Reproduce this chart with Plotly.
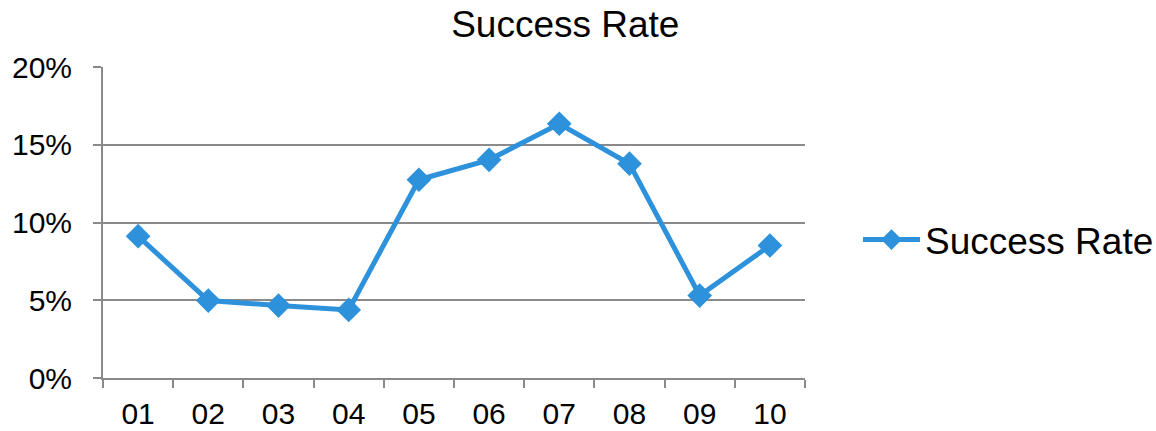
import plotly.graph_objects as go

categories = ["01", "02", "03", "04", "05", "06", "07", "08", "09", "10"]
success_rate = [0.0912, 0.0498, 0.0466, 0.0438, 0.1275, 0.1403, 0.1635, 0.1378, 0.0530, 0.0852]
y_ticks = [0, 0.05, 0.10, 0.15, 0.20]
y_tick_labels = ["0%", "5%", "10%", "15%", "20%"]

BLUE = "#2E91DB"
GRID = "#8A8A8A"
FONT = "Liberation Sans, Arial, sans-serif"

fig = go.Figure()
fig.add_trace(go.Scatter(
    x=categories, y=success_rate, mode="lines+markers", name="Success Rate",
    line=dict(color=BLUE, width=5),
    marker=dict(symbol="diamond", size=19, color=BLUE),
))

fig.update_layout(
    width=1156, height=431,
    margin=dict(l=103, r=351, t=67, b=53, autoexpand=False),
    paper_bgcolor="white", plot_bgcolor="white",
    font=dict(family=FONT, color="black", size=30),
    title=dict(text="Success Rate", font=dict(size=37, family=FONT, color="black"),
               x=0.489, xref="container", xanchor="center",
               y=1 - 24/431, yref="container", yanchor="middle"),
    showlegend=True,
    legend=dict(x=858/1156, xref="container", xanchor="left",
                y=1 - 240/431, yref="container", yanchor="middle",
                font=dict(size=37, family=FONT, color="black"),
                bgcolor="rgba(0,0,0,0)", itemwidth=57),
)
fig.update_xaxes(
    type="category", range=[-0.5, 9.5], automargin=False,
    showgrid=False, showline=True, linecolor=GRID, linewidth=2,
    ticks="outside", tickson="boundaries", ticklen=8, tickcolor=GRID, tickwidth=2,
    tickfont=dict(size=30), ticklabelstandoff=8,
)
fig.update_yaxes(
    range=[0, 0.2], tickvals=y_ticks, ticktext=y_tick_labels, automargin=False,
    showgrid=True, gridcolor=GRID, gridwidth=2,
    showline=True, linecolor=GRID, linewidth=2,
    ticks="outside", ticklen=8, tickcolor=GRID, tickwidth=2,
    tickfont=dict(size=30), ticklabelstandoff=15, zeroline=False,
)

fig.write_html("out.html")
